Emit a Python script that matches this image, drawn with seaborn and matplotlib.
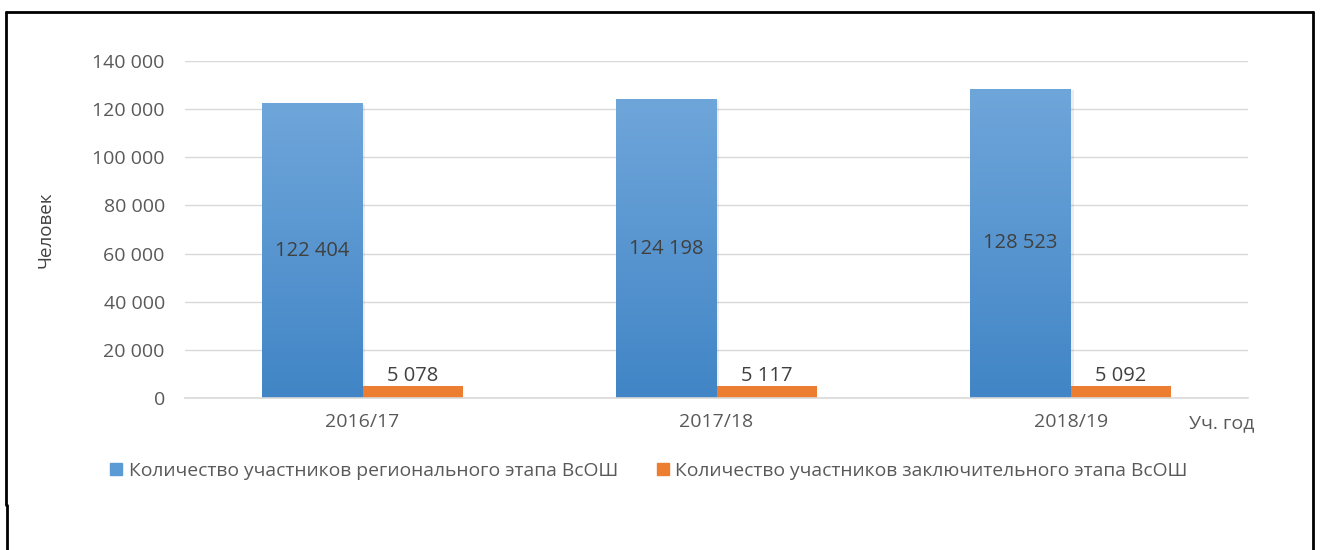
import numpy as np
import pandas as pd
import matplotlib
matplotlib.use("Agg")
import matplotlib.pyplot as plt
import seaborn as sns
from matplotlib.lines import Line2D
from matplotlib.patches import Rectangle

years = ["2016/17", "2017/18", "2018/19"]
regional = [122404, 124198, 128523]
final = [5078, 5117, 5092]
series_names = ["Количество участников регионального этапа ВсОШ",
                "Количество участников заключительного этапа ВсОШ"]
y_ticks = [0, 20000, 40000, 60000, 80000, 100000, 120000, 140000]

df = pd.DataFrame({
    "year": years * 2,
    "series": [series_names[0]] * 3 + [series_names[1]] * 3,
    "value": regional + final,
})

sns.set_theme(style="white")
plt.rcParams["font.family"] = ["Open Sans", "DejaVu Sans"]
grey = "#595959"
blue = "#5B9BD5"
orange = "#ED7D31"

fig = plt.figure(figsize=(13.2, 5.5), dpi=100)
ax = fig.add_axes([185 / 1320, 1 - 398 / 550, 1063 / 1320, 337 / 550])

sns.barplot(data=df, x="year", y="value", hue="series", ax=ax,
            palette=[blue, orange], width=0.567, legend=False,
            saturation=1, edgecolor="none")

ax.set_ylim(0, 140000)
ax.set_yticks(y_ticks)
ax.set_yticklabels([f"{v:,}".replace(",", " ") for v in y_ticks])
ax.yaxis.grid(True, color="#d9d9d9", linewidth=1)
ax.set_axisbelow(True)
for s in ["top", "right", "left"]:
    ax.spines[s].set_visible(False)
ax.spines["bottom"].set_color("#d9d9d9")
ax.spines["bottom"].set_linewidth(1.2)
ax.tick_params(axis="both", length=0, colors=grey, labelsize=14)
ax.tick_params(axis="y", pad=14.5)
ax.tick_params(axis="x", pad=11)

ax.set_xlabel("")
ax.set_ylabel("Человек", color="#404040", fontsize=13.5, labelpad=27)

# gradient fill on the blue bars
grad = np.linspace(0, 1, 256).reshape(-1, 1)
cmap = matplotlib.colors.LinearSegmentedColormap.from_list("g", ["#4185c6", "#6fa6da"])
blue_bars = ax.containers[0]
for p in blue_bars:
    x0, y0 = p.get_x(), p.get_y()
    w, h = p.get_width(), p.get_height()
    sh = Rectangle((x0 + 0.008, y0 - 600), w, h, color="#000000", alpha=0.07,
                   zorder=p.get_zorder() - 0.1, linewidth=0)
    ax.add_patch(sh)
    im = ax.imshow(grad, extent=[x0, x0 + w, y0, y0 + h], origin="lower",
                   cmap=cmap, aspect="auto", zorder=p.get_zorder() + 0.1)
    im.set_clip_path(p)
ax.set_xlim(-0.5, 2.5)
ax.set_ylim(0, 140000)

fmt = lambda v: f"{v:,.0f}".replace(",", " ")
ax.bar_label(ax.containers[0], labels=[fmt(v) for v in regional],
             label_type="center", color="#404040", fontsize=14.5, zorder=5)
ax.bar_label(ax.containers[1], labels=[fmt(v) for v in final],
             label_type="edge", padding=0, color="#404040", fontsize=14.5)

fig.text(1189 / 1320, 1 - 423 / 550, "Уч. год", color=grey, fontsize=14,
         va="center", ha="left")

handles = [Line2D([], [], marker="s", linestyle="none", markersize=9,
                  markerfacecolor=c, markeredgecolor=c) for c in [blue, orange]]
fig.legend(handles, series_names, loc="center", ncol=2,
           bbox_to_anchor=(648 / 1320, 1 - 471 / 550), frameon=False,
           fontsize=13.9, labelcolor=grey, handletextpad=0.25,
           columnspacing=1.9, handlelength=0.8)

# outer frame as in the source
fr = dict(color="black", linewidth=2, transform=fig.transFigure)
fig.add_artist(Line2D([6 / 1320, 1313 / 1320], [1 - 12 / 550] * 2, **fr))
fig.add_artist(Line2D([6 / 1320] * 2, [1 - 12 / 550, 1 - 505 / 550], **fr))
fig.add_artist(Line2D([7 / 1320] * 2, [1 - 505 / 550, 0], **fr))
fig.add_artist(Line2D([1313 / 1320] * 2, [1 - 12 / 550, 0], **fr))

fig.savefig("out.png", dpi=100)
